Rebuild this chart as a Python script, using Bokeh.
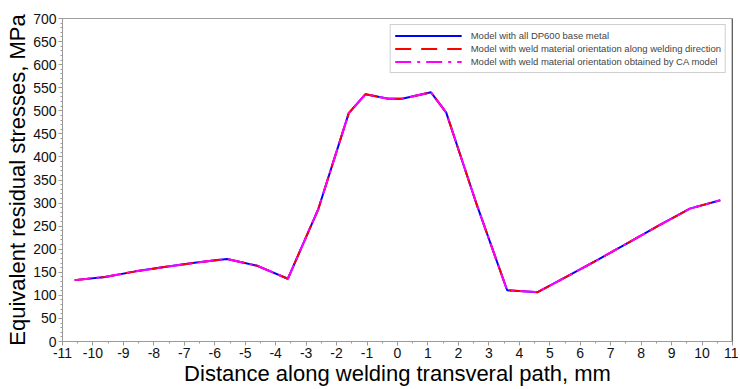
from bokeh.plotting import figure
from bokeh.models import FixedTicker, Range1d, Legend, LegendItem, Span
from bokeh.embed import file_html
from bokeh.resources import INLINE

# Distance along path (mm)
distance = [-10.6, -9.6, -8.6, -7.6, -6.6, -5.6, -4.6, -3.6, -2.6, -1.6, -1.05,
            -0.3, 0.15, 1.1, 1.6, 2.6, 3.6, 4.6, 5.6, 6.6, 7.6, 8.6, 9.6, 10.6]
# Equivalent residual stresses (MPa)
base_metal = [133, 140, 152, 162, 171, 179, 164, 136, 287, 495, 536,
              526, 526, 540, 496, 297, 111, 107, 142, 178, 215, 252, 288, 306]
along_weld = [133, 140, 152, 162, 171, 179, 164, 136, 287, 495, 536,
              526, 526, 540, 496, 297, 111, 107, 142, 178, 215, 252, 288, 306]
ca_model = [133, 140, 152, 162, 171, 179, 164, 136, 287, 495, 536,
            526, 526, 540, 496, 297, 111, 107, 142, 178, 215, 252, 288, 306]

x_ticks = list(range(-11, 12))
y_ticks = list(range(0, 701, 50))
labels = ["Model with all DP600 base metal",
          "Model with weld material orientation along welding direction",
          "Model with weld material orientation obtained by CA model"]

FONT = "Liberation Sans"

p = figure(width=738, height=388, output_backend="svg", toolbar_location=None,
           x_range=Range1d(-11, 11), y_range=Range1d(0, 700),
           min_border_left=62, min_border_right=6, min_border_top=18, min_border_bottom=40)

p.xgrid.visible = False
p.ygrid.visible = False
p.outline_line_color = "#a0a0a0"
p.outline_line_width = 1

r1 = p.line(distance, base_metal, line_color="#0000ff", line_width=2)
r2 = p.line(distance, along_weld, line_color="#ff0000", line_width=2, line_dash="16 10")
r3 = p.line(distance, ca_model, line_color="#ff00ff", line_width=2, line_dash="16 6 3 6")

p.add_layout(Span(location=11, dimension="height", line_color="#202020", line_width=1.5))

for ax in (p.xaxis[0], p.yaxis[0]):
    ax.axis_line_color = "#9a9a9a"
    ax.major_tick_line_color = "#9a9a9a"
    ax.minor_tick_line_color = "#9a9a9a"
    ax.major_tick_out = 4
    ax.major_tick_in = 0
    ax.minor_tick_out = 2
    ax.minor_tick_in = 0
    ax.major_label_text_font = FONT
    ax.major_label_text_font_size = "14px"
    ax.major_label_text_color = "#111111"
    ax.axis_label_text_font = FONT
    ax.axis_label_text_font_size = "22px"
    ax.axis_label_text_font_style = "normal"
    ax.axis_label_text_color = "#000000"
    ax.major_label_standoff = 2

p.xaxis.ticker = FixedTicker(ticks=x_ticks, minor_ticks=[t + 0.5 for t in x_ticks[:-1]])
p.yaxis.ticker = FixedTicker(ticks=y_ticks, minor_ticks=list(range(0, 701, 10)))
p.xaxis.major_label_overrides = {t: str(t) for t in x_ticks}
p.xaxis.axis_label = "Distance along welding transveral path, mm"
p.yaxis.axis_label = "Equivalent residual stresses, MPa"
p.xaxis.axis_label_standoff = 0
p.yaxis.axis_label_standoff = 0

legend = Legend(items=[LegendItem(label=labels[0], renderers=[r1]),
                       LegendItem(label=labels[1], renderers=[r2]),
                       LegendItem(label=labels[2], renderers=[r3])],
                location="top_right", margin=6, padding=4, spacing=0,
                glyph_width=67, glyph_height=13, label_height=13,
                label_text_font=FONT, label_text_font_size="9.5px",
                label_standoff=9, border_line_color="#a0a0a0",
                border_line_width=1, background_fill_alpha=1)
p.add_layout(legend)

open("out.html", "w").write(file_html(p, INLINE))
